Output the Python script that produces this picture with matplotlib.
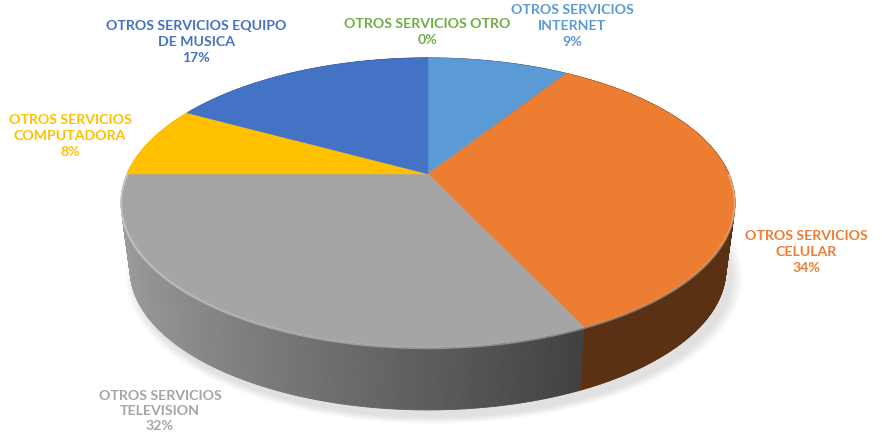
import numpy as np
import matplotlib
matplotlib.use('Agg')
import matplotlib.pyplot as plt
from matplotlib.collections import PolyCollection
from matplotlib.colors import to_rgb

# data (clockwise from 12 o'clock)
labels = ['OTROS SERVICIOS\nINTERNET', 'OTROS SERVICIOS\nCELULAR', 'OTROS SERVICIOS\nTELEVISION',
          'OTROS SERVICIOS\nCOMPUTADORA', 'OTROS SERVICIOS EQUIPO\nDE MUSICA', 'OTROS SERVICIOS OTRO']
values = [9, 34, 32, 8, 17, 0]
colors = ['#5B9BD5', '#ED7D31', '#A5A5A5', '#FFC000', '#4472C4', '#70AD47']

# layout of the fake 3d pie (pixel space)
cx, cy = 428, 174          # centre of top face
rx, ry = 301, 139
persp = 0.197              # foreshortening of the back
cy_bot, s_bot = 242, 0.97  # bottom rim
label_xy = [(572, 26), (806, 252), (160, 411), (70, 136), (196, 42), (427, 32)]

def proj(theta, top=True):
    u, v = np.sin(theta), np.cos(theta)
    w = 1 + persp * v
    x = rx * u / w
    y = -ry * v / w
    if top:
        return cx + x, cy + y
    return cx + s_bot * x, cy_bot + s_bot * y

fig = plt.figure(figsize=(8.82, 4.40), dpi=100)
ax = fig.add_axes([0, 0, 1, 1])
ax.set_xlim(0, 882)
ax.set_ylim(440, 0)
ax.axis('off')

total = sum(values)
edges = np.concatenate([[0], np.cumsum(values)]) / total * 2 * np.pi

# soft shadow under the pie
for k in range(10):
    th = np.linspace(0, 2 * np.pi, 200)
    bx, by = proj(th, top=False)
    sc = 1 + 0.004 * k
    ax.fill(cx + 6 + (bx - cx) * sc, cy_bot + 8 + (by - cy_bot) * sc, color='k', alpha=0.012, lw=0, zorder=1)

# side wall: thin strips, back to front
polys, pcols, depth = [], [], []
for i, val in enumerate(values):
    if val == 0:
        continue
    base = np.array(to_rgb(colors[i]))
    th = np.linspace(edges[i], edges[i + 1], max(3, int(val * 8)))
    for a, b in zip(th[:-1], th[1:]):
        x1, y1 = proj(a)
        x2, y2 = proj(b)
        x3, y3 = proj(b, False)
        x4, y4 = proj(a, False)
        polys.append([(x1, y1), (x2, y2), (x3, y3), (x4, y4)])
        m = (a + b) / 2
        f = -np.sin(m)
        fac = min(0.94, max(0.38, 0.56 + 0.40 * f))
        pcols.append(tuple(base * fac))
        depth.append(np.cos(m))
order = np.argsort(depth)[::-1]
side = PolyCollection([polys[j] for j in order], facecolors=[pcols[j] for j in order],
                      edgecolors=[pcols[j] for j in order], linewidths=0.6, zorder=2)
ax.add_collection(side)

# top face
for i, val in enumerate(values):
    if val == 0:
        continue
    th = np.linspace(edges[i], edges[i + 1], 100)
    x, y = proj(th)
    ax.fill(np.r_[cx, x], np.r_[cy, y], color=colors[i], lw=0.3, ec=colors[i], zorder=3)

# rim highlight on the front edge
th = np.linspace(np.pi / 2, 3 * np.pi / 2, 200)
x, y = proj(th)
ax.plot(x, y + 1, color='white', alpha=0.35, lw=1.6, zorder=4)

# labels
for i, val in enumerate(values):
    pct = round(val / total * 100)
    ax.text(label_xy[i][0], label_xy[i][1], f'{labels[i]}\n{pct}%', ha='center', va='center',
            color=colors[i], fontsize=10.2, fontfamily='Lato', fontweight='bold',
            linespacing=1.35, zorder=5)

fig.savefig('out.png', dpi=100)
